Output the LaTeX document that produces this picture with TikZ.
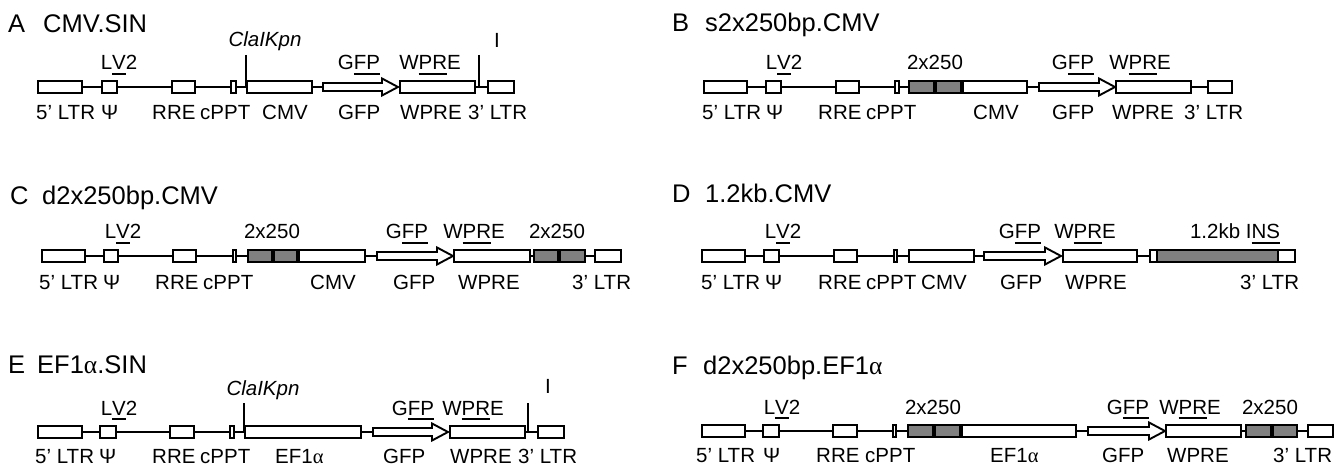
\documentclass[tikz,border=0pt]{standalone}
\usepackage{fontspec}
\setmainfont{Liberation Sans}
\newfontfamily\serifal{Liberation Serif}
\usepackage{graphicx}
\newsavebox\mybox
\newcommand\myul[1]{\sbox\mybox{#1}\rlap{\rule[-5pt]{\wd\mybox}{1.7pt}}\usebox\mybox}
\newcommand\al{{\serifal α}}
\newcommand\Bx[5][elem]{\pgfmathsetmacro\bw{#4-#3-1.9}\pgfmathsetmacro\bc{(#3+#4)/2}\node[#1, minimum width=\bw pt] (#2) at (\bc,#5) {};}
\newcommand\Ar[4]{\pgfmathsetmacro\bw{#3-#2}\pgfmathsetmacro\bc{(#2+#3)/2}%
 \node[inner sep=0pt, minimum width=\bw pt, minimum height=17pt] (#1) at (\bc,#4) {};%
 \draw[outl, fill=white] (#2,#4-4) -- (#3-16,#4-4) -- (#3-16,#4-8.5) -- (#3,#4) -- (#3-16,#4+8.5) -- (#3-16,#4+4) -- (#2,#4+4) -- cycle;}
\tikzset{
 elem/.style={draw, line width=1.9pt, fill=white, inner sep=0pt, minimum height=12pt, rectangle},
 grel/.style={elem, fill=gray},
 cn/.style={line width=1.5pt},
 outl/.style={line width=1.9pt},
 tl/.style={inner sep=0pt, anchor=base, font=\fontsize{20.5}{20.5}\selectfont},
 bl/.style={inner sep=0pt, anchor=base west, font=\fontsize{20.5}{20.5}\selectfont},
 tt/.style={inner sep=0pt, anchor=base west, font=\fontsize{25.5}{25.5}\selectfont},
}
\begin{document}
\begin{tikzpicture}[x=1pt,y=-1pt]
\useasboundingbox[fill=white] (0,0) rectangle (1336,465);
% ================= A =================
\node[tt] (at1) at (8,33) {A};
\node[tt] (at2) at (43,33) {CMV.SIN};
\Bx{a1}{37}{83}{87}
\Bx{a2}{101}{118}{87}
\Bx{a3}{171}{196}{87}
\Bx{a4}{230}{237}{87}
\Bx{a5}{246}{313}{87}
\Ar{a6}{323}{398}{87}
\Bx{a7}{399}{476}{87}
\Bx{a8}{487}{515}{87}
\draw[cn] (a1.east) -- (a2.west);
\draw[cn] (a2.east) -- (a3.west);
\draw[cn] (a3.east) -- (a4.west);
\draw[cn] (a4.east) -- (a5.west);
\draw[cn] (a5.east) -- (a6.west);
\draw[cn] (a7.east) -- (a8.west);
\coordinate (av1t) at (246,55); \coordinate (av1b) at (246,87);
\coordinate (av2t) at (479,55); \coordinate (av2b) at (479,87);
\draw[cn] (av1t) -- (av1b);
\draw[cn] (av2t) -- (av2b);
\node[tl] (alv) at (119,70) {L\myul{V}2};
\node[tl] (agfp) at (359,70) {G\myul{FP}};
\node[tl] (awpre) at (430,70) {W\myul{PR}E};
\node[tl, font=\fontsize{20.5}{20.5}\selectfont\itshape] (acla) at (265,47) {ClaIKpn};
\node[tl] (ai) at (497,48) {I};
\node[bl] (ab1) at (36,120) {5’ LTR};
\node[bl] (ab2) at (101,120) {Ψ};
\node[bl] (ab3) at (152,120) {RRE};
\node[bl] (ab4) at (200,120) {cPPT};
\node[bl] (ab5) at (262,120) {CMV};
\node[bl] (ab6) at (338,120) {GFP};
\node[bl] (ab7) at (400,120) {WPRE};
\node[bl] (ab8) at (468,120) {3’ LTR};
% ================= B =================
\node[tt] (bt1) at (672,32) {B};
\node[tt] (bt2) at (705,32) {s2x250bp.CMV};
\Bx{b1}{703}{748}{87}
\Bx{b2}{765}{782}{87}
\Bx{b3}{835}{860}{87}
\Bx{b4}{894}{900}{87}
\Bx[grel]{b5}{908}{935}{87}
\Bx[grel]{b6}{935}{962}{87}
\Bx{b7}{962}{1028}{87}
\Ar{b8}{1039}{1115}{87}
\Bx{b9}{1115}{1192}{87}
\Bx{b10}{1207}{1233}{87}
\draw[cn] (b1.east) -- (b2.west);
\draw[cn] (b2.east) -- (b3.west);
\draw[cn] (b3.east) -- (b4.west);
\draw[cn] (b4.east) -- (b5.west);
\draw[cn] (b7.east) -- (b8.west);
\draw[cn] (b9.east) -- (b10.west);
\node[tl] (blv) at (784,70) {L\myul{V}2};
\node[tl] (b2x) at (935,70) {2x250};
\node[tl] (bgfp) at (1073,70) {G\myul{FP}};
\node[tl] (bwpre) at (1140,70) {W\myul{PR}E};
\node[bl] (bb1) at (702,120) {5’ LTR};
\node[bl] (bb2) at (766,120) {Ψ};
\node[bl] (bb3) at (818,120) {RRE};
\node[bl] (bb4) at (866,120) {cPPT};
\node[bl] (bb5) at (973,120) {CMV};
\node[bl] (bb6) at (1052,120) {GFP};
\node[bl] (bb7) at (1112,120) {WPRE};
\node[bl] (bb8) at (1184,120) {3’ LTR};
% ================= C =================
\node[tt] (ct1) at (10,205) {C};
\node[tt] (ct2) at (42,205) {d2x250bp.CMV};
\Bx{c1}{41}{86}{256}
\Bx{c2}{103}{119}{256}
\Bx{c3}{172}{197}{256}
\Bx{c4}{232}{237}{256}
\Bx[grel]{c5}{247}{273}{256}
\Bx[grel]{c6}{273}{298}{256}
\Bx{c7}{298}{366}{256}
\Ar{c8}{377}{453}{256}
\Bx{c9}{453}{531}{256}
\Bx[grel]{c10}{533}{559}{256}
\Bx[grel]{c11}{559}{586}{256}
\Bx{c12}{594}{622}{256}
\draw[cn] (c1.east) -- (c2.west);
\draw[cn] (c2.east) -- (c3.west);
\draw[cn] (c3.east) -- (c4.west);
\draw[cn] (c4.east) -- (c5.west);
\draw[cn] (c7.east) -- (c8.west);
\draw[cn] (c9.east) -- (c10.west);
\draw[cn] (c11.east) -- (c12.west);
\node[tl] (clv) at (123,239) {L\myul{V}2};
\node[tl] (c2x) at (272,239) {2x250};
\node[tl] (cgfp) at (407,239) {G\myul{FP}};
\node[tl] (cwpre) at (474,239) {W\myul{PR}E};
\node[tl] (c2y) at (557,239) {2x250};
\node[bl] (cb1) at (39,289) {5’ LTR};
\node[bl] (cb2) at (103,289) {Ψ};
\node[bl] (cb3) at (155,289) {RRE};
\node[bl] (cb4) at (203,289) {cPPT};
\node[bl] (cb5) at (310,289) {CMV};
\node[bl] (cb6) at (393,289) {GFP};
\node[bl] (cb7) at (458,289) {WPRE};
\node[bl] (cb8) at (572,289) {3’ LTR};
% ================= D =================
\node[tt] (dt1) at (672,203) {D};
\node[tt] (dt2) at (705,203) {1.2kb.CMV};
\Bx{d1}{701}{746}{256}
\Bx{d2}{763}{780}{256}
\Bx{d3}{833}{858}{256}
\Bx{d4}{893}{898}{256}
\Bx{d5}{908}{975}{256}
\Ar{d6}{984}{1061}{256}
\Bx{d7}{1062}{1138}{256}
\Bx{d8}{1149}{1296}{256}
\Bx[grel]{d9}{1156}{1279}{256}
\draw[cn] (d1.east) -- (d2.west);
\draw[cn] (d2.east) -- (d3.west);
\draw[cn] (d3.east) -- (d4.west);
\draw[cn] (d4.east) -- (d5.west);
\draw[cn] (d5.east) -- (d6.west);
\draw[cn] (d7.east) -- (d8.west);
\node[tl] (dlv) at (783,239) {L\myul{V}2};
\node[tl] (dgfp) at (1020,239) {G\myul{FP}};
\node[tl] (dwpre) at (1085,239) {W\myul{PR}E};
\node[tl] (dins) at (1235,239) {1.2kb I\myul{NS}};
\node[bl] (db1) at (701,289) {5’ LTR};
\node[bl] (db2) at (765,289) {Ψ};
\node[bl] (db3) at (818,289) {RRE};
\node[bl] (db4) at (866,289) {cPPT};
\node[bl] (db5) at (921,289) {CMV};
\node[bl] (db6) at (1000,289) {GFP};
\node[bl] (db7) at (1065,289) {WPRE};
\node[bl] (db8) at (1240,289) {3’ LTR};
% ================= E =================
\node[tt] (et1) at (8,373) {E};
\node[tt] (et2) at (37,373) {EF1\al.SIN};
\Bx{e1}{37}{83}{432}
\Bx{e2}{99}{117}{432}
\Bx{e3}{169}{195}{432}
\Bx{e4}{229}{235}{432}
\Bx{e5}{244}{362}{432}
\Ar{e6}{373}{448}{432}
\Bx{e7}{449}{526}{432}
\Bx{e8}{537}{565}{432}
\draw[cn] (e1.east) -- (e2.west);
\draw[cn] (e2.east) -- (e3.west);
\draw[cn] (e3.east) -- (e4.west);
\draw[cn] (e4.east) -- (e5.west);
\draw[cn] (e5.east) -- (e6.west);
\draw[cn] (e7.east) -- (e8.west);
\coordinate (ev1t) at (244,403); \coordinate (ev1b) at (244,432);
\coordinate (ev2t) at (528,403); \coordinate (ev2b) at (528,432);
\draw[cn] (ev1t) -- (ev1b);
\draw[cn] (ev2t) -- (ev2b);
\node[tl] (elv) at (119,415) {L\myul{V}2};
\node[tl] (egfp) at (413,415) {G\myul{FP}};
\node[tl] (ewpre) at (473,415) {W\myul{PR}E};
\node[tl, font=\fontsize{20.5}{20.5}\selectfont\itshape] (ecla) at (263,395) {ClaIKpn};
\node[tl] (ei) at (548,393) {I};
\node[bl] (eb1) at (35,463) {5’ LTR};
\node[bl] (eb2) at (99,463) {Ψ};
\node[bl] (eb3) at (152,463) {RRE};
\node[bl] (eb4) at (200,463) {cPPT};
\node[bl] (eb5) at (275,463) {EF1\al};
\node[bl] (eb6) at (383,463) {GFP};
\node[bl] (eb7) at (450,463) {WPRE};
\node[bl] (eb8) at (518,463) {3’ LTR};
% ================= F =================
\node[tt] (ft1) at (672,374) {F};
\node[tt] (ft2) at (703,374) {d2x250bp.EF1\al};
\Bx{f1}{701}{746}{431}
\Bx{f2}{762}{780}{431}
\Bx{f3}{832}{858}{431}
\Bx{f4}{892}{897}{431}
\Bx[grel]{f5}{907}{934}{431}
\Bx[grel]{f6}{934}{961}{431}
\Bx{f7}{961}{1077}{431}
\Ar{f8}{1088}{1165}{431}
\Bx{f9}{1165}{1242}{431}
\Bx[grel]{f10}{1245}{1272}{431}
\Bx[grel]{f11}{1272}{1298}{431}
\Bx{f12}{1307}{1334}{431}
\draw[cn] (f1.east) -- (f2.west);
\draw[cn] (f2.east) -- (f3.west);
\draw[cn] (f3.east) -- (f4.west);
\draw[cn] (f4.east) -- (f5.west);
\draw[cn] (f7.east) -- (f8.west);
\draw[cn] (f9.east) -- (f10.west);
\draw[cn] (f11.east) -- (f12.west);
\node[tl] (flv) at (782,414) {L\myul{V}2};
\node[tl] (f2x) at (933,414) {2x250};
\node[tl] (fgfp) at (1128,414) {G\myul{FP}};
\node[tl] (fwpre) at (1190,414) {W\myul{PR}E};
\node[tl] (f2y) at (1270,414) {2x250};
\node[bl] (fb1) at (696,462) {5’ LTR};
\node[bl] (fb2) at (763,462) {Ψ};
\node[bl] (fb3) at (816,462) {RRE};
\node[bl] (fb4) at (865,462) {cPPT};
\node[bl] (fb5) at (990,462) {EF1\al};
\node[bl] (fb6) at (1102,462) {GFP};
\node[bl] (fb7) at (1167,462) {WPRE};
\node[bl] (fb8) at (1273,462) {3’ LTR};
\end{tikzpicture}
\end{document}
